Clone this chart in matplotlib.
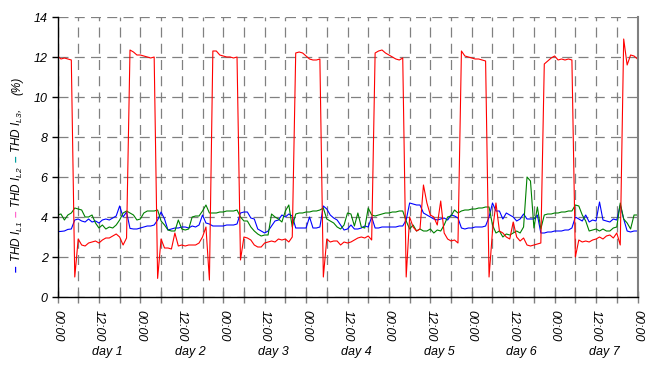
import matplotlib.pyplot as plt

plt.rcParams['font.family'] = ['Liberation Sans', 'DejaVu Sans']
plt.rcParams['font.style'] = 'italic'
plt.rcParams['mathtext.fontset'] = 'custom'
plt.rcParams['mathtext.it'] = 'Liberation Sans:italic'
plt.rcParams['mathtext.rm'] = 'Liberation Sans:italic'

# --- data: hourly THD values (%), hour 0 .. 168 ---
hours = list(range(169))

thd_l1 = [  # blue
    3.27, 3.28, 3.30, 3.38, 3.40, 3.85, 3.90, 3.80, 3.75, 3.90, 3.75, 3.80,
    3.70, 3.85, 3.90, 3.85, 3.95, 4.05, 4.55, 4.00, 4.25, 3.43, 3.40, 3.40,
    3.45, 3.50, 3.55, 3.55, 3.60, 3.85, 4.25, 3.90, 3.35, 3.40, 3.45, 3.45,
    3.50, 3.50, 3.45, 3.55, 3.50, 3.60, 4.10, 3.70, 3.65, 3.55, 3.55, 3.55,
    3.55, 3.60, 3.60, 3.60, 3.65, 4.20, 4.25, 4.25, 3.95, 3.90, 3.40, 3.30,
    3.20, 3.30, 3.55, 3.80, 3.85, 4.10, 4.00, 4.15, 4.05, 3.45, 3.45, 3.45,
    3.45, 4.00, 3.45, 3.45, 3.50, 4.55, 4.40, 4.10, 3.95, 3.85, 3.60, 3.35,
    3.40, 3.60, 3.40, 3.40, 3.45, 3.55, 3.50, 4.00, 3.45, 3.45, 3.50, 3.50,
    3.50, 3.50, 3.50, 3.55, 3.55, 3.85, 4.70, 4.65, 4.60, 4.60, 4.20, 4.10,
    4.00, 3.90, 3.85, 3.90, 3.95, 3.85, 4.10, 4.05, 3.95, 3.45, 3.40, 3.45,
    3.45, 3.50, 3.50, 3.50, 3.55, 4.00, 4.70, 4.30, 4.30, 3.90, 4.20, 4.10,
    4.00, 3.80, 3.90, 4.15, 3.90, 3.90, 3.90, 4.10, 3.20, 3.20, 3.25, 3.25,
    3.30, 3.30, 3.30, 3.35, 3.35, 3.45, 4.00, 3.90, 3.80, 4.10, 3.75, 3.85,
    3.80, 4.75, 3.85, 3.80, 3.75, 3.90, 3.85, 4.60, 3.90, 3.30, 3.25, 3.30,
    3.30,
]

thd_l2 = [  # red
    12.05, 11.90, 11.95, 11.90, 11.85, 1.00, 2.90, 2.60, 2.55, 2.70, 2.75, 2.80,
    2.70, 2.85, 2.95, 2.95, 3.05, 3.15, 3.00, 2.60, 2.95, 12.35, 12.25, 12.10,
    12.10, 12.05, 12.00, 11.95, 12.00, 0.93, 2.90, 2.45, 2.45, 2.40, 3.20, 2.55,
    2.60, 2.55, 2.60, 2.60, 2.60, 2.70, 3.00, 3.50, 0.85, 12.30, 12.30, 12.10,
    12.05, 12.00, 12.00, 11.95, 12.00, 1.85, 3.00, 2.95, 2.85, 2.60, 2.50, 2.50,
    2.70, 2.75, 2.80, 2.75, 2.90, 2.85, 2.90, 2.75, 3.00, 12.20, 12.25, 12.20,
    12.05, 11.90, 11.85, 11.85, 11.90, 1.00, 2.90, 2.75, 2.80, 2.80, 2.60, 2.75,
    2.70, 2.75, 2.85, 2.95, 3.00, 2.95, 3.05, 2.85, 12.20, 12.30, 12.35, 12.20,
    12.10, 12.00, 11.90, 11.85, 11.95, 1.00, 4.00, 3.50, 3.30, 3.40, 5.60, 4.70,
    4.10, 4.00, 3.60, 4.80, 3.20, 2.90, 2.80, 2.85, 2.70, 12.30, 12.05, 12.00,
    11.95, 11.90, 11.90, 11.85, 11.80, 1.00, 3.30, 4.70, 3.30, 3.20, 3.00, 2.90,
    3.75, 3.00, 2.80, 2.95, 2.60, 2.55, 2.60, 2.65, 2.70, 11.65, 11.80, 11.95,
    12.05, 11.85, 11.90, 11.85, 11.90, 11.85, 2.00, 2.85, 2.75, 2.80, 2.75, 2.85,
    2.90, 3.00, 2.90, 3.05, 3.10, 2.95, 3.20, 2.60, 12.90, 11.60, 12.10, 12.05,
    11.90,
]

thd_l3 = [  # green
    4.10, 4.15, 3.85, 4.10, 4.20, 4.45, 4.40, 4.35, 4.00, 4.00, 4.10, 3.70,
    3.45, 3.60, 3.40, 3.50, 3.45, 3.60, 3.85, 4.20, 4.30, 4.20, 4.10, 3.85,
    3.90, 4.20, 4.30, 4.30, 4.30, 4.35, 3.80, 3.60, 3.35, 3.30, 3.30, 3.85,
    3.40, 3.35, 3.40, 4.00, 4.05, 4.05, 4.30, 4.60, 4.20, 4.20, 4.20, 4.25,
    4.25, 4.30, 4.30, 4.30, 4.35, 4.00, 3.80, 3.80, 3.50, 3.30, 3.15, 3.05,
    3.10, 3.10, 4.15, 4.00, 3.90, 3.75, 4.30, 4.60, 3.50, 4.15, 4.20, 4.20,
    4.25, 4.25, 4.30, 4.30, 4.35, 4.45, 3.90, 3.80, 3.70, 3.50, 3.40, 3.60,
    4.20, 4.15, 3.55, 4.20, 3.50, 3.45, 4.45, 4.10, 4.05, 4.10, 4.15, 4.20,
    4.20, 4.25, 4.25, 4.30, 4.30, 3.80, 3.40, 3.60, 3.30, 3.40, 3.30, 3.30,
    3.40, 3.20, 3.35, 3.30, 3.60, 4.00, 4.05, 4.35, 4.20, 4.30, 4.35, 4.35,
    4.40, 4.40, 4.45, 4.45, 4.50, 4.50, 3.60, 3.20, 3.30, 3.00, 3.15, 3.10,
    3.20, 3.30, 3.20, 3.50, 6.00, 5.80, 3.45, 4.50, 3.40, 4.10, 4.15, 4.15,
    4.20, 4.20, 4.25, 4.25, 4.30, 4.30, 4.60, 4.55, 4.10, 3.80, 3.30, 3.35,
    3.40, 3.30, 3.40, 3.30, 3.30, 3.45, 3.50, 4.70, 3.90, 3.70, 3.40, 4.10,
    4.10,
]

tick_hours = list(range(0, 169, 6))
tick_labels = ['00:00', '', '12:00', ''] * 7 + ['00:00']
day_labels = ['day 1', 'day 2', 'day 3', 'day 4', 'day 5', 'day 6', 'day 7']

# --- figure ---
W, H = 659, 370
fig = plt.figure(figsize=(W / 100, H / 100), dpi=100)
ax = fig.add_axes([57.5 / W, 1 - 297 / H, (637.5 - 57.5) / W, (297 - 17) / H])

ax.plot(hours, thd_l1, color='#0000ff', lw=0.8)
ax.plot(hours, thd_l3, color='#008000', lw=0.8)
ax.plot(hours, thd_l2, color='#ff0000', lw=0.8)

ax.set_xlim(0, 168)
ax.set_ylim(0, 14)
ax.set_yticks(range(0, 15, 2))
ax.set_xticks(tick_hours)
ax.set_xticklabels(tick_labels)

ax.grid(True, color='#808080', linestyle=(0, (8, 5)), lw=0.9)
ax.set_axisbelow(True)

ax.spines['top'].set_visible(False)
ax.spines['right'].set_color('#808080')
ax.spines['right'].set_linewidth(1.5)
ax.spines['left'].set_linewidth(1.0)
ax.spines['bottom'].set_linewidth(1.0)

ax.tick_params(axis='y', direction='out', length=4, width=1, labelsize=9, pad=3)
ax.tick_params(axis='x', direction='inout', length=8, width=1, color='#808080',
               labelsize=9, pad=5, labelrotation=-90)

for i, name in enumerate(day_labels):
    ax.text(14.5 + 24 * i, -0.196, name, transform=ax.get_xaxis_transform(),
            ha='center', va='center', fontsize=9)

# y label made of coloured pieces, stacked bottom to top with measured extents
fig.canvas.draw()
r = fig.canvas.get_renderer()
pieces = [
    ('–', '#0000ff', 3, 'bold'),
    (r'THD $I_{L1}$', 'black', 4, 'normal'),
    ('–', '#ff66cc', 3, 'bold'),
    (r'THD $I_{L2}$', 'black', 4, 'normal'),
    ('–', '#00a0a0', 3, 'bold'),
    (r'THD $I_{L3}$,', 'black', 14, 'normal'),
    ('(%)', 'black', 0, 'normal'),
]
ypos = H - 272
for s, c, gap, wt in pieces:
    t = fig.text(17 / W, ypos / H, s, color=c, rotation=90, ha='center',
                 va='bottom', fontsize=8.5, fontweight=wt)
    ypos += t.get_window_extent(r).height + gap

fig.savefig('out.png', dpi=100)
